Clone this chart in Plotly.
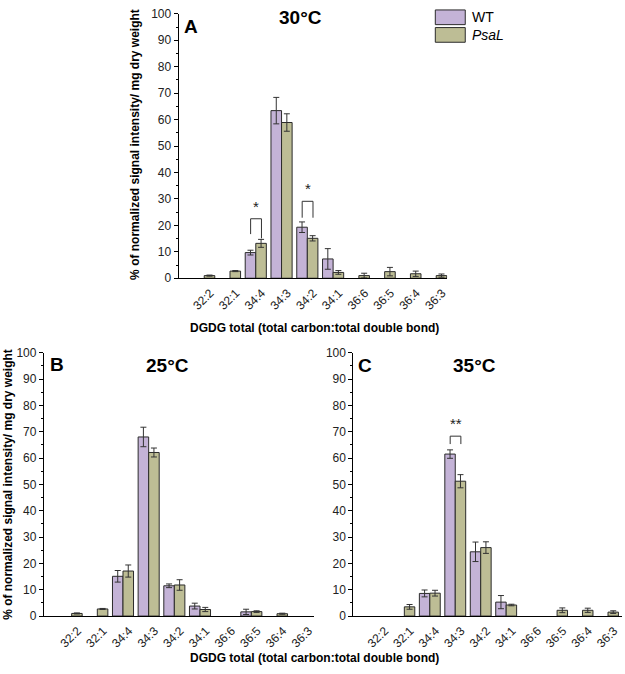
import plotly.graph_objects as go

categories = ["32:2", "32:1", "34:4", "34:3", "34:2", "34:1", "36:6", "36:5", "36:4", "36:3"]
series_names = ["WT", "PsaL"]

# Panel A (30 °C)
wt_30 = [None, None, 9.7, 63.4, 19.3, 7.3, None, None, None, None]
wt_30_err = [None, None, 0.9, 5.0, 2.0, 3.9, None, None, None, None]
psal_30 = [1.0, 2.7, 13.2, 58.9, 15.1, 2.2, 1.0, 2.5, 1.7, 1.0]
psal_30_err = [0.2, 0.2, 1.5, 3.3, 1.0, 0.7, 0.9, 1.6, 1.0, 0.6]

# Panel B (25 °C)
wt_25 = [None, None, 15.1, 68.0, 11.5, 3.8, None, 1.6, None, None]
wt_25_err = [None, None, 2.2, 3.7, 0.7, 1.1, None, 1.0, None, None]
psal_25 = [1.0, 2.7, 17.1, 62.1, 11.8, 2.5, None, 1.7, 0.9, None]
psal_25_err = [0.2, 0.2, 2.3, 1.7, 2.0, 0.8, None, 0.3, 0.2, None]

# Panel C (35 °C)
wt_35 = [None, None, 8.6, 61.5, 24.4, 5.3, None, None, None, None]
wt_35_err = [None, None, 1.3, 1.6, 3.7, 2.5, None, None, None, None]
psal_35 = [None, 3.5, 8.7, 51.2, 26.0, 4.2, None, 2.2, 2.2, 1.5]
psal_35_err = [None, 0.9, 1.1, 2.5, 2.2, 0.3, None, 0.9, 0.8, 0.5]

# significance: (axis suffix, category, label, bracket top, WT leg end, PsaL leg end)
significance = [
    ("", "34:4", "*", 22.5, 16.7, 15.1),
    ("", "34:2", "*", 29.1, 22.9, 22.9),
    ("3", "34:3", "**", 68.3, 65.3, 65.3),
]

y_ticks = [0, 10, 20, 30, 40, 50, 60, 70, 80, 90, 100]

WT_COLOR = "#C4B3D7"
PSAL_COLOR = "#BDBD95"
EDGE = "#2b2b2b"
FONT = "Liberation Sans, Arial, sans-serif"

W, H = 625, 674
def px(x):
    return x / W
def py(y):
    return 1 - y / H

fig = go.Figure()

panels = [
    ("", wt_30, wt_30_err, psal_30, psal_30_err),
    ("2", wt_25, wt_25_err, psal_25, psal_25_err),
    ("3", wt_35, wt_35_err, psal_35, psal_35_err),
]
for suf, wt, wte, ps, pse in panels:
    for name, vals, errs, col in [(series_names[0], wt, wte, WT_COLOR), (series_names[1], ps, pse, PSAL_COLOR)]:
        fig.add_trace(go.Bar(
            x=categories, y=vals, name=name, showlegend=False,
            xaxis="x" + suf, yaxis="y" + suf,
            marker=dict(color=col, line=dict(color=EDGE, width=1)),
            offsetgroup=name,
            error_y=dict(type="data", array=errs, visible=True, color="#333333", thickness=1, width=3),
        ))

axis_common_x = dict(
    type="category", categoryorder="array", categoryarray=categories,
    showline=True, linecolor="black", linewidth=1.2, ticks="",
    tickangle=-45, tickfont=dict(family=FONT, size=12, color="#222"),
    ticklabelstandoff=2, ticklabelshift=6,
    showgrid=False, zeroline=False, fixedrange=True,
)
axis_common_y = dict(
    range=[0, 100], tickvals=y_ticks, showline=True, linecolor="black", linewidth=1.2,
    ticks="outside", ticklen=4, tickcolor="black",
    minor=dict(dtick=5, ticks="outside", ticklen=2, tickcolor="black"),
    tickfont=dict(family=FONT, size=12, color="#222"),
    showgrid=False, zeroline=False, fixedrange=True,
)

fig.update_layout(
    width=W, height=H,
    margin=dict(l=0, r=0, t=0, b=0),
    paper_bgcolor="white", plot_bgcolor="white",
    barmode="group", bargap=0.18, bargroupgap=0,
    showlegend=False,
    xaxis=dict(axis_common_x, domain=[px(179), px(448)], range=[-0.99, 9.43], anchor="y"),
    yaxis=dict(axis_common_y, domain=[py(277), py(7)], anchor="x"),
    xaxis2=dict(axis_common_x, domain=[px(44), px(315)], range=[-1.08, 9.46], anchor="y2"),
    yaxis2=dict(axis_common_y, domain=[py(622), py(353)], anchor="x2"),
    xaxis3=dict(axis_common_x, domain=[px(354), px(623)], range=[-1.0, 9.55], anchor="y3"),
    yaxis3=dict(axis_common_y, domain=[py(622), py(353)], anchor="x3"),
)

shapes = []
annotations = []

# significance brackets
for suf, cat, lab, top, l1, l2 in significance:
    i = categories.index(cat)
    x0, x1 = i - 0.2, i + 0.22
    xr, yr = "x" + suf, "y" + suf
    shapes.append(dict(type="path", xref=xr, yref=yr,
                       path=f"M {x0} {l1} L {x0} {top} L {x1} {top} L {x1} {l2}",
                       line=dict(color="#333", width=1)))
    annotations.append(dict(x=(x0 + x1) / 2, y=top + 0.8, xref=xr, yref=yr, text=lab,
                            showarrow=False, yanchor="bottom",
                            font=dict(family=FONT, size=15, color="#222")))

# panel titles and letters
for txt, x, y, size in [("30°C", 301, 11, 19), ("A", 191, 20, 19),
                        ("25°C", 168, 366, 19), ("B", 57, 365, 19),
                        ("35°C", 475, 366, 19), ("C", 366, 366, 19)]:
    annotations.append(dict(x=px(x), y=py(y), xref="paper", yref="paper", text=f"<b>{txt}</b>",
                            showarrow=False, xanchor="center", yanchor="middle",
                            font=dict(family=FONT, size=size, color="black")))

ytitle = "<b>% of normalized signal intensity/ mg dry weight</b>"
xtitle = "<b>DGDG total (total carbon:total double bond)</b>"
annotations.append(dict(x=px(135), y=py(140), xref="paper", yref="paper", text=ytitle,
                        textangle=-90, showarrow=False, xanchor="center", yanchor="middle",
                        font=dict(family=FONT, size=12, color="black")))
annotations.append(dict(x=px(8), y=py(487), xref="paper", yref="paper", text=ytitle,
                        textangle=-90, showarrow=False, xanchor="center", yanchor="middle",
                        font=dict(family=FONT, size=12, color="black")))
annotations.append(dict(x=px(315), y=py(328), xref="paper", yref="paper", text=xtitle,
                        showarrow=False, xanchor="center", yanchor="middle",
                        font=dict(family=FONT, size=12, color="black")))
annotations.append(dict(x=px(315), y=py(665), xref="paper", yref="paper", text=xtitle,
                        showarrow=False, xanchor="center", yanchor="middle",
                        font=dict(family=FONT, size=12, color="black")))

# legend (drawn manually, large swatches)
for k, (name, col) in enumerate([(series_names[0], WT_COLOR), (series_names[1], PSAL_COLOR)]):
    y0 = 3 + k * 18
    shapes.append(dict(type="rect", xref="paper", yref="paper",
                       x0=px(436), x1=px(466), y0=py(y0 + 15), y1=py(y0),
                       fillcolor=col, line=dict(color=EDGE, width=1)))
    label = name if k == 0 else f"<i>{name}</i>"
    annotations.append(dict(x=px(471), y=py(y0 + 7.5), xref="paper", yref="paper", text=label,
                            showarrow=False, xanchor="left", yanchor="middle",
                            font=dict(family=FONT, size=14, color="black")))

fig.update_layout(shapes=shapes, annotations=annotations)
fig.write_html("out.html", config={"displayModeBar": False},
               post_script="document.body.style.margin='0';document.body.style.overflow='hidden';")
